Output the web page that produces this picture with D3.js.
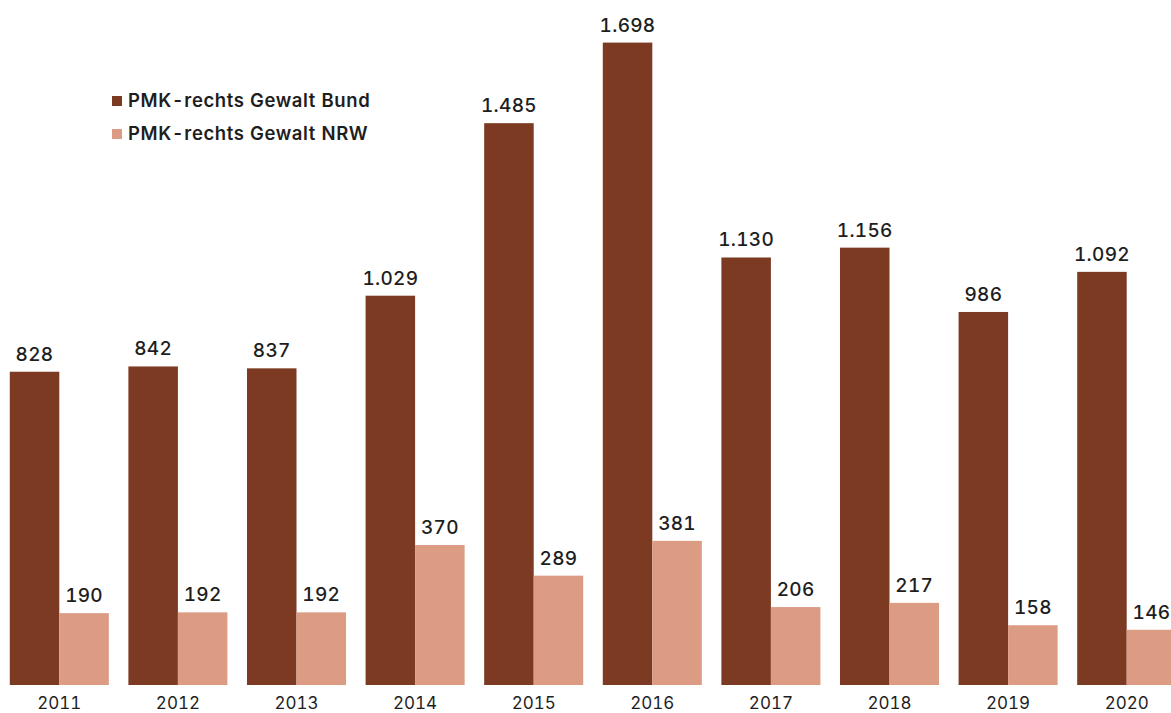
<!DOCTYPE html>
<html>
<head>
<meta charset="utf-8">
<script src="https://cdn.jsdelivr.net/npm/d3@7"></script>
<style>
  html, body { margin: 0; padding: 0; background: #fff; }
  svg { display: block; }
  text { font-family: Inter, "Noto Sans", sans-serif; fill: #1e1e1e; font-variant-numeric: tabular-nums; }
</style>
</head>
<body>
<svg id="chart" width="1171" height="713"></svg>
<script>
// Rechtsextreme Gewalttaten (PMK-rechts), Bund und NRW
const years = ["2011", "2012", "2013", "2014", "2015", "2016", "2017", "2018", "2019", "2020"];
const bund = [828, 842, 837, 1029, 1485, 1698, 1130, 1156, 986, 1092];
const nrw = [190, 192, 192, 370, 289, 381, 206, 217, 158, 146];
const seriesNames = ["PMK-rechts Gewalt Bund", "PMK-rechts Gewalt NRW"];
const seriesColors = ["#7d3a22", "#dc9c84"];

const svg = d3.select("#chart");
const baseline = 685;

const de = d3.formatLocale({ decimal: ",", thousands: ".", grouping: [3], currency: ["", " €"] });
const fmt = de.format(",d");

const x = d3.scaleBand().domain(years).range([0, 1186]).paddingInner(0.165).paddingOuter(0.0825);
const xs = d3.scaleBand().domain([0, 1]).range([0, x.bandwidth()]);
const y = d3.scaleLinear().domain([0, 1800]).range([baseline, 4]);
const color = d3.scaleOrdinal().domain([0, 1]).range(seriesColors);

const rows = years.map((yr, i) => ({ year: yr, vals: [bund[i], nrw[i]] }));

const groups = svg.append("g").selectAll("g")
  .data(rows).join("g")
  .attr("transform", d => `translate(${x(d.year)},0)`);

groups.selectAll("rect")
  .data(d => d.vals.map((v, k) => ({ k, v })))
  .join("rect")
  .attr("x", d => xs(d.k))
  .attr("width", xs.bandwidth())
  .attr("y", d => y(d.v))
  .attr("height", d => baseline - y(d.v))
  .attr("fill", d => color(d.k));

groups.selectAll("text.val")
  .data(d => d.vals.map((v, k) => ({ k, v })))
  .join("text")
  .attr("class", "val")
  .attr("x", d => xs(d.k) + xs.bandwidth() / 2)
  .attr("y", d => y(d.v) - 11)
  .attr("text-anchor", "middle")
  .attr("font-size", 19)
  .attr("font-weight", 500)
  .attr("letter-spacing", 0.3)
  .text(d => fmt(d.v));

// x axis labels
const xAxis = d3.axisBottom(x).tickSize(0).tickPadding(12);
const ax = svg.append("g").attr("transform", `translate(0,${baseline})`).call(xAxis);
ax.select(".domain").remove();
ax.selectAll("text")
  .attr("font-size", 17)
  .attr("font-weight", 400)
  .attr("fill", "#1e1e1e")
  .style("font-family", "Inter, 'Noto Sans', sans-serif")
  .style("font-variant-numeric", "tabular-nums");

// legend
const legend = svg.append("g").attr("transform", "translate(112,96)");
seriesNames.forEach((name, k) => {
  const g = legend.append("g").attr("transform", `translate(0,${k * 33})`);
  g.append("rect").attr("width", 10).attr("height", 10).attr("fill", seriesColors[k]);
  g.append("text").attr("x", 16).attr("y", 11)
    .attr("font-size", 18.5).attr("font-weight", 600)
    .attr("letter-spacing", 0.6)
    .text(name);
});
</script>
</body>
</html>
